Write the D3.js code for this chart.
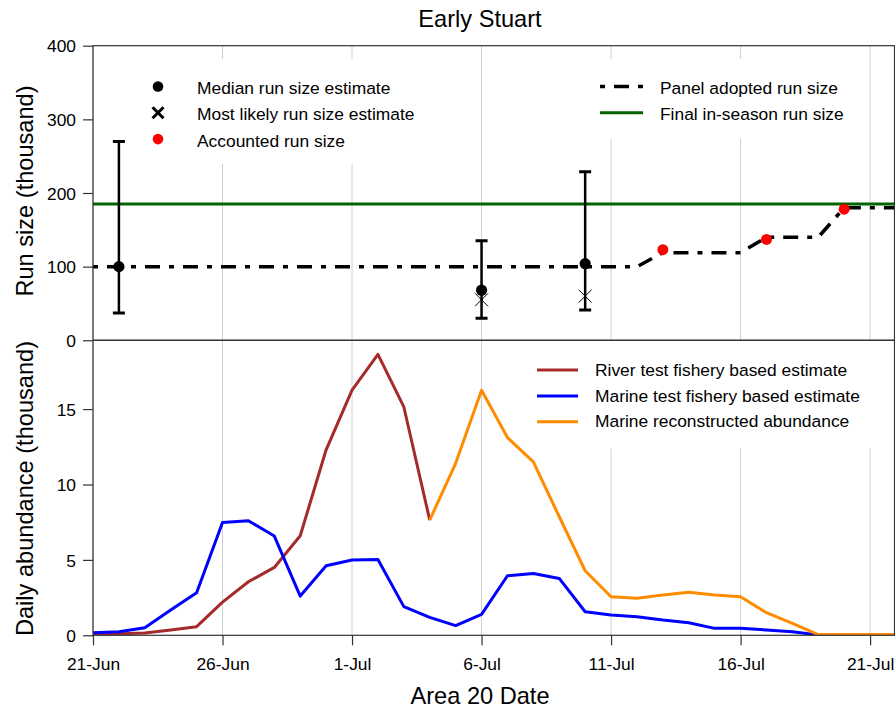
<!DOCTYPE html>
<html>
<head>
<meta charset="utf-8">
<script src="https://cdn.jsdelivr.net/npm/d3@7"></script>
<style>
  body { margin: 0; background: #fff; }
  svg text { font-family: Arial, "Liberation Sans", sans-serif; fill: #000; }
</style>
</head>
<body>
<svg id="chart" width="895" height="712"></svg>
<script>
// ---- data -------------------------------------------------------------
const tickDates = ["2019-06-21", "2019-06-26", "2019-07-01", "2019-07-06", "2019-07-11", "2019-07-16", "2019-07-21"];
const runTicks = [0, 100, 200, 300, 400];
const abundTicks = [0, 5, 10, 15];

// Run size estimates (thousand fish)
const estDates = ["2019-06-22", "2019-07-06", "2019-07-10"];
const estMedian = [100, 68, 104];
const estLower = [37, 30, 41];
const estUpper = [270, 135, 229];
const estLikely = [null, 55, 60];

const panelDates = ["2019-06-21", "2019-07-12", "2019-07-13", "2019-07-16", "2019-07-17", "2019-07-19", "2019-07-20", "2019-07-22"];
const panelRun = [100, 100, 119, 119, 140, 140, 180, 180];

const accountedDates = ["2019-07-13", "2019-07-17", "2019-07-20"];
const accountedRun = [123, 137, 178];

const finalRun = 185;

// Daily abundance (thousand fish)
const riverDates = ["2019-06-21", "2019-06-22", "2019-06-23", "2019-06-24", "2019-06-25", "2019-06-26", "2019-06-27",
  "2019-06-28", "2019-06-29", "2019-06-30", "2019-07-01", "2019-07-02", "2019-07-03", "2019-07-04"];
const riverAbund = [0.05, 0.1, 0.15, 0.35, 0.57, 2.2, 3.55, 4.5, 6.6, 12.3, 16.25, 18.63, 15.14, 7.64];

const marineDates = ["2019-06-21", "2019-06-22", "2019-06-23", "2019-06-24", "2019-06-25", "2019-06-26", "2019-06-27",
  "2019-06-28", "2019-06-29", "2019-06-30", "2019-07-01", "2019-07-02", "2019-07-03", "2019-07-04", "2019-07-05",
  "2019-07-06", "2019-07-07", "2019-07-08", "2019-07-09", "2019-07-10", "2019-07-11", "2019-07-12", "2019-07-13",
  "2019-07-14", "2019-07-15", "2019-07-16", "2019-07-17", "2019-07-18", "2019-07-19"];
const marineAbund = [0.17, 0.24, 0.5, 1.67, 2.82, 7.48, 7.59, 6.58, 2.6, 4.61, 4.99, 5.03, 1.9, 1.19, 0.64,
  1.39, 3.95, 4.1, 3.77, 1.56, 1.34, 1.23, 1.01, 0.83, 0.46, 0.46, 0.35, 0.24, 0.02];

const reconDates = ["2019-07-04", "2019-07-05", "2019-07-06", "2019-07-07", "2019-07-08", "2019-07-09", "2019-07-10",
  "2019-07-11", "2019-07-12", "2019-07-13", "2019-07-14", "2019-07-15", "2019-07-16", "2019-07-17", "2019-07-18",
  "2019-07-19", "2019-07-20", "2019-07-21", "2019-07-22"];
const reconAbund = [7.64, 11.4, 16.25, 13.11, 11.5, 7.86, 4.28, 2.56, 2.45, 2.67, 2.85, 2.67, 2.56, 1.5, 0.79,
  0.05, 0.05, 0.05, 0.05];

// ---- layout -----------------------------------------------------------
const parse = d3.timeParse("%Y-%m-%d");
const L = 93, R = 894.5;
const topY0 = 45.7, topY1 = 340.3, botY0 = 340.3, botY1 = 635.3;
const FS = 17.4, FT = 23.6;
const axisCol = "#333";
const gridCol = "#d0d0d0";

const svg = d3.select("#chart");

const x = d3.scaleTime()
  .domain([parse("2019-06-21"), parse("2019-07-22")])
  .range([93, 896]);
const yTop = d3.scaleLinear().domain([0, 400]).range([topY1, topY0]);
const yBot = d3.scaleLinear().domain([0, 19.56]).range([botY1, botY0]);

const defs = svg.append("defs");
defs.append("clipPath").attr("id", "clipTop")
  .append("rect").attr("x", L).attr("y", topY0).attr("width", R - L).attr("height", topY1 - topY0);
defs.append("clipPath").attr("id", "clipBot")
  .append("rect").attr("x", L).attr("y", botY0).attr("width", R - L).attr("height", botY1 - botY0);

const ticks = tickDates.map(parse);

// ---- top panel: run size ---------------------------------------------
const gTop = svg.append("g");

gTop.selectAll("line.grid").data(ticks).join("line")
  .attr("x1", d => x(d)).attr("x2", d => x(d))
  .attr("y1", topY0).attr("y2", topY1)
  .attr("stroke", gridCol).attr("stroke-width", 1);

// legend backgrounds hide the grid behind the keys
gTop.append("rect").attr("x", 125).attr("y", 59).attr("width", 295).attr("height", 105).attr("fill", "#fff");
gTop.append("rect").attr("x", 590).attr("y", 59).attr("width", 270).attr("height", 80).attr("fill", "#fff");

const topPlot = gTop.append("g").attr("clip-path", "url(#clipTop)");

topPlot.append("line")
  .attr("x1", L).attr("x2", R)
  .attr("y1", yTop(finalRun)).attr("y2", yTop(finalRun))
  .attr("stroke", "#006400").attr("stroke-width", 3);

const panelLine = d3.line().x(d => x(d[0])).y(d => yTop(d[1]));
topPlot.append("path")
  .datum(panelDates.map((d, i) => [parse(d), panelRun[i]]))
  .attr("d", panelLine)
  .attr("fill", "none").attr("stroke", "#000").attr("stroke-width", 3.5)
  .attr("stroke-dasharray", "5,9,15,9");

const est = estDates.map((d, i) => ({
  date: parse(d), med: estMedian[i], lo: estLower[i], hi: estUpper[i], ml: estLikely[i]
}));

const eb = topPlot.selectAll("g.est").data(est).join("g");
eb.append("line")
  .attr("x1", d => x(d.date)).attr("x2", d => x(d.date))
  .attr("y1", d => yTop(d.lo)).attr("y2", d => yTop(d.hi))
  .attr("stroke", "#000").attr("stroke-width", 2.5);
["lo", "hi"].forEach(k => {
  eb.append("line")
    .attr("x1", d => x(d.date) - 6).attr("x2", d => x(d.date) + 6)
    .attr("y1", d => yTop(d[k])).attr("y2", d => yTop(d[k]))
    .attr("stroke", "#000").attr("stroke-width", 3);
});
eb.append("circle")
  .attr("cx", d => x(d.date)).attr("cy", d => yTop(d.med)).attr("r", 5.6)
  .attr("fill", "#000");
eb.filter(d => d.ml != null).append("path")
  .attr("d", d => {
    const cx = x(d.date), cy = yTop(d.ml), s = 6.5;
    return `M${cx - s},${cy - s}L${cx + s},${cy + s}M${cx - s},${cy + s}L${cx + s},${cy - s}`;
  })
  .attr("stroke", "#000").attr("stroke-width", 1).attr("fill", "none");

topPlot.selectAll("circle.acc")
  .data(accountedDates.map((d, i) => [parse(d), accountedRun[i]]))
  .join("circle")
  .attr("cx", d => x(d[0])).attr("cy", d => yTop(d[1])).attr("r", 5.5)
  .attr("fill", "#ff0000");

gTop.append("rect")
  .attr("x", L).attr("y", topY0).attr("width", R - L).attr("height", topY1 - topY0)
  .attr("fill", "none").attr("stroke", axisCol).attr("stroke-width", 1.2);

const axTop = gTop.append("g").attr("transform", `translate(${L},0)`)
  .call(d3.axisLeft(yTop).tickValues(runTicks).tickSize(10).tickSizeOuter(0).tickPadding(7));

// top legends
const legL = gTop.append("g");
const legRowsL = [94, 120.3, 146.6];
legL.append("circle").attr("cx", 158).attr("cy", legRowsL[0] - 7.5).attr("r", 5.3).attr("fill", "#000");
legL.append("path")
  .attr("d", `M${158 - 5.5},${legRowsL[1] - 13}L${158 + 5.5},${legRowsL[1] - 2}M${158 - 5.5},${legRowsL[1] - 2}L${158 + 5.5},${legRowsL[1] - 13}`)
  .attr("stroke", "#000").attr("stroke-width", 3);
legL.append("circle").attr("cx", 158).attr("cy", legRowsL[2] - 7.5).attr("r", 5.3).attr("fill", "#ff0000");
["Median run size estimate", "Most likely run size estimate", "Accounted run size"].forEach((t, i) => {
  legL.append("text").attr("x", 197).attr("y", legRowsL[i]).attr("font-size", FS).text(t);
});

const legR = gTop.append("g");
legR.append("line").attr("x1", 600).attr("x2", 643).attr("y1", 86.5).attr("y2", 86.5)
  .attr("stroke", "#000").attr("stroke-width", 3.5).attr("stroke-dasharray", "5,9,15,9");
legR.append("line").attr("x1", 600).attr("x2", 643).attr("y1", 112.8).attr("y2", 112.8)
  .attr("stroke", "#006400").attr("stroke-width", 3);
legR.append("text").attr("x", 660).attr("y", 94).attr("font-size", FS).text("Panel adopted run size");
legR.append("text").attr("x", 660).attr("y", 120.3).attr("font-size", FS).text("Final in-season run size");

// ---- bottom panel: daily abundance -----------------------------------
const gBot = svg.append("g");

gBot.selectAll("line.grid").data(ticks).join("line")
  .attr("x1", d => x(d)).attr("x2", d => x(d))
  .attr("y1", botY0).attr("y2", botY1)
  .attr("stroke", gridCol).attr("stroke-width", 1);

gBot.append("rect").attr("x", 505).attr("y", botY0 + 1).attr("width", 388).attr("height", 107).attr("fill", "#fff");

const botPlot = gBot.append("g").attr("clip-path", "url(#clipBot)");
const abundLine = d3.line().x(d => x(d[0])).y(d => yBot(d[1]));

const series = [
  { dates: riverDates, vals: riverAbund, color: "#a52a2a", name: "River test fishery based estimate" },
  { dates: marineDates, vals: marineAbund, color: "#0000ff", name: "Marine test fishery based estimate" },
  { dates: reconDates, vals: reconAbund, color: "#ff8c00", name: "Marine reconstructed abundance" }
];

series.forEach(s => {
  botPlot.append("path")
    .datum(s.dates.map((d, i) => [parse(d), s.vals[i]]))
    .attr("d", abundLine)
    .attr("fill", "none").attr("stroke", s.color).attr("stroke-width", 3)
    .attr("stroke-linejoin", "round");
});

gBot.append("rect")
  .attr("x", L).attr("y", botY0).attr("width", R - L).attr("height", botY1 - botY0)
  .attr("fill", "none").attr("stroke", axisCol).attr("stroke-width", 1.2);

const axBotY = gBot.append("g").attr("transform", `translate(${L},0)`)
  .call(d3.axisLeft(yBot).tickValues(abundTicks).tickSize(10).tickSizeOuter(0).tickPadding(7));

const axBotX = gBot.append("g").attr("transform", `translate(0,${botY1})`)
  .call(d3.axisBottom(x).tickValues(ticks).tickFormat(d3.timeFormat("%-d-%b"))
    .tickSize(10).tickSizeOuter(0).tickPadding(12));

[axTop, axBotY, axBotX].forEach(ax => {
  ax.select(".domain").remove();
  ax.selectAll(".tick line").attr("stroke", axisCol).attr("stroke-width", 1.2);
  ax.selectAll(".tick text").attr("font-size", FS).attr("fill", "#000")
    .attr("font-family", 'Arial, "Liberation Sans", sans-serif');
});
axTop.selectAll(".tick text").attr("dy", "0.36em");
axBotY.selectAll(".tick text").attr("dy", "0.36em");

const legB = gBot.append("g");
const legRowsB = [375.5, 401.5, 427.3];
series.forEach((s, i) => {
  legB.append("line").attr("x1", 537).attr("x2", 578)
    .attr("y1", legRowsB[i] - 5.5).attr("y2", legRowsB[i] - 5.5)
    .attr("stroke", s.color).attr("stroke-width", 3);
  legB.append("text").attr("x", 595).attr("y", legRowsB[i]).attr("font-size", FS).text(s.name);
});

// ---- titles -----------------------------------------------------------
svg.append("text").attr("x", 480).attr("y", 27).attr("text-anchor", "middle")
  .attr("font-size", FT).text("Early Stuart");
svg.append("text").attr("x", 480).attr("y", 704).attr("text-anchor", "middle")
  .attr("font-size", FT).text("Area 20 Date");
svg.append("text").attr("transform", "translate(33,191) rotate(-90)").attr("text-anchor", "middle")
  .attr("font-size", FT).text("Run size (thousand)");
svg.append("text").attr("transform", "translate(33,488.5) rotate(-90)").attr("text-anchor", "middle")
  .attr("font-size", FT).text("Daily abundance (thousand)");
</script>
</body>
</html>
